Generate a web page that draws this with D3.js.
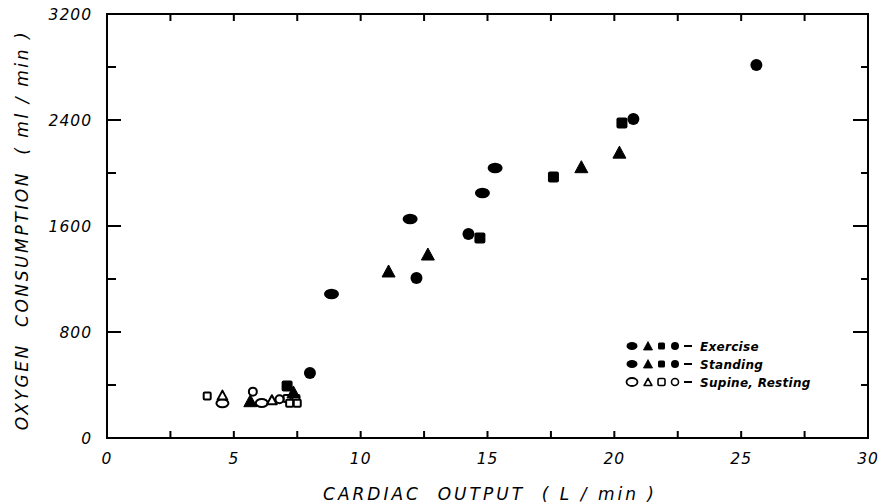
<!DOCTYPE html>
<html>
<head>
<meta charset="utf-8">
<script src="https://cdn.jsdelivr.net/npm/d3@7"></script>
<style>
  body { margin: 0; background: #fff; }
  svg { display: block; }
</style>
</head>
<body>
<div id="chart"></div>
<script>
  // cardiac output (L/min) vs oxygen consumption (ml/min)
  const filledOval = [[15.3, 2038], [14.8, 1849], [11.95, 1653], [8.85, 1087]];
  const filledCircle = [[25.6, 2815], [20.75, 2408], [14.25, 1540], [12.2, 1208], [8.0, 491]];
  const filledSquare = [[17.6, 1970], [20.3, 2377], [14.7, 1509], [7.1, 392]];
  const filledTriangle = [[18.7, 2040], [20.2, 2150], [12.65, 1381], [11.1, 1253], [7.35, 340], [5.65, 274]];
  const openOval = [[4.55, 262], [6.1, 264]];
  const openCircle = [[5.75, 350], [6.8, 292]];
  const openSquare = [[3.95, 317], [7.1, 299], [7.45, 299], [7.2, 262], [7.5, 262]];
  const openTriangle = [[4.55, 318], [6.5, 283]];

  const xTicks = [0, 5, 10, 15, 20, 25, 30];
  const yTicks = [0, 800, 1600, 2400, 3200];
  const legendLabels = ["Exercise", "Standing", "Supine, Resting"];

(function() {
  const W = 884, H = 504;
  const plot = { left: 107, right: 868, top: 14, bottom: 438 };
  const FONT = "'DejaVu Sans', sans-serif";

  const svg = d3.select("#chart").append("svg").attr("width", W).attr("height", H);

  const x = d3.scaleLinear().domain([0, 30]).range([plot.left, plot.right]);
  const y = d3.scaleLinear().domain([0, 3200]).range([plot.bottom, plot.top]);

  // frame
  svg.append("rect")
    .attr("x", plot.left).attr("y", plot.top)
    .attr("width", plot.right - plot.left).attr("height", plot.bottom - plot.top)
    .attr("fill", "none").attr("stroke", "#000").attr("stroke-width", 2);

  // x ticks every 2.5, pointing inward, bottom and top
  const xMinor = d3.range(2.5, 30, 2.5);
  svg.append("g").selectAll("line").data(xMinor).join("line")
    .attr("x1", d => x(d)).attr("x2", d => x(d))
    .attr("y1", plot.bottom).attr("y2", plot.bottom - 7)
    .attr("stroke", "#000").attr("stroke-width", 2);
  svg.append("g").selectAll("line").data(xMinor).join("line")
    .attr("x1", d => x(d)).attr("x2", d => x(d))
    .attr("y1", plot.top).attr("y2", plot.top + 7)
    .attr("stroke", "#000").attr("stroke-width", 2);

  // y ticks every 400, major ones longer
  const yAll = d3.range(400, 3200, 400);
  svg.append("g").selectAll("line").data(yAll).join("line")
    .attr("x1", plot.left).attr("x2", d => plot.left + (d % 800 === 0 ? 14 : 9))
    .attr("y1", d => y(d)).attr("y2", d => y(d))
    .attr("stroke", "#000").attr("stroke-width", 2);
  svg.append("g").selectAll("line").data(yAll).join("line")
    .attr("x1", plot.right).attr("x2", d => plot.right - (d % 800 === 0 ? 15 : 7))
    .attr("y1", d => y(d)).attr("y2", d => y(d))
    .attr("stroke", "#000").attr("stroke-width", 2);

  // tick labels
  svg.append("g").selectAll("text").data(xTicks).join("text")
    .attr("x", d => x(d)).attr("y", 464)
    .attr("text-anchor", "middle")
    .style("font-family", FONT).style("font-style", "italic")
    .style("font-size", "15.5px").style("letter-spacing", "1px")
    .text(d => d);

  svg.append("g").selectAll("text").data(yTicks).join("text")
    .attr("x", 92).attr("y", d => y(d) + 5.5)
    .attr("text-anchor", "end")
    .style("font-family", FONT).style("font-style", "italic")
    .style("font-size", "15.5px").style("letter-spacing", "1px")
    .text(d => d);

  // axis titles
  const nb = s => s.replace(/ /g, "\u00a0");
  svg.append("text")
    .attr("x", 490).attr("y", 500)
    .attr("text-anchor", "middle")
    .style("font-family", FONT).style("font-style", "italic")
    .style("font-size", "17px").style("letter-spacing", "3px")
    .text(nb("CARDIAC  OUTPUT  ( L / min )"));

  svg.append("text")
    .attr("transform", "translate(28,230) rotate(-90)")
    .attr("text-anchor", "middle")
    .style("font-family", FONT).style("font-style", "italic")
    .style("font-size", "17px").style("letter-spacing", "2.6px")
    .text(nb("OXYGEN  CONSUMPTION  ( ml / min )"));

  // marker shapes
  const triPath = s => `M0,${-7 * s} L${6.5 * s},${5 * s} L${-6.5 * s},${5 * s} Z`;

  function drawOval(g, data, rx, ry, filled) {
    g.selectAll(null).data(data).join("ellipse")
      .attr("cx", d => x(d[0])).attr("cy", d => y(d[1]))
      .attr("rx", rx).attr("ry", ry)
      .attr("fill", filled ? "#000" : "#fff")
      .attr("stroke", "#000").attr("stroke-width", filled ? 0 : 2);
  }
  function drawSquare(g, data, s, filled) {
    g.selectAll(null).data(data).join("rect")
      .attr("x", d => x(d[0]) - s / 2).attr("y", d => y(d[1]) - s / 2)
      .attr("width", s).attr("height", s).attr("rx", filled ? 2 : 1)
      .attr("fill", filled ? "#000" : "#fff")
      .attr("stroke", "#000").attr("stroke-width", filled ? 0 : 2);
  }
  function drawTriangle(g, data, s, filled) {
    g.selectAll(null).data(data).join("path")
      .attr("transform", d => `translate(${x(d[0])},${y(d[1])})`)
      .attr("d", triPath(s))
      .attr("fill", filled ? "#000" : "#fff")
      .attr("stroke", "#000").attr("stroke-width", filled ? 1 : 2)
      .attr("stroke-linejoin", "round");
  }

  const marks = svg.append("g");
  drawOval(marks, openOval, 6, 4, false);
  drawSquare(marks, openSquare, 7, false);
  drawTriangle(marks, openTriangle, 0.75, false);
  drawOval(marks, openCircle, 4, 4, false);
  drawTriangle(marks, filledTriangle, 1, true);
  drawSquare(marks, filledSquare, 11, true);
  drawOval(marks, filledOval, 7.5, 5.2, true);
  drawOval(marks, filledCircle, 6, 6, true);

  // legend
  const legendRows = [346, 364, 382];
  const leg = svg.append("g");
  legendRows.forEach((ly, i) => {
    const filled = i < 2;
    leg.append("ellipse").attr("cx", 632).attr("cy", ly).attr("rx", 5.5).attr("ry", 4)
      .attr("fill", filled ? "#000" : "#fff").attr("stroke", "#000").attr("stroke-width", filled ? 0 : 1.8);
    leg.append("path").attr("transform", `translate(648,${ly + 0.5})`).attr("d", triPath(filled ? 0.7 : 0.6))
      .attr("fill", filled ? "#000" : "#fff").attr("stroke", "#000").attr("stroke-width", filled ? 0.8 : 1.6)
      .attr("stroke-linejoin", "round");
    leg.append("rect").attr("x", 658).attr("y", ly - 3.5).attr("width", 7).attr("height", 7).attr("rx", 1.5)
      .attr("fill", filled ? "#000" : "#fff").attr("stroke", "#000").attr("stroke-width", filled ? 0 : 1.6);
    leg.append("circle").attr("cx", 675).attr("cy", ly).attr("r", filled ? 4 : 3.5)
      .attr("fill", filled ? "#000" : "#fff").attr("stroke", "#000").attr("stroke-width", filled ? 0 : 1.6);
    leg.append("line").attr("x1", 684).attr("x2", 692).attr("y1", ly).attr("y2", ly)
      .attr("stroke", "#000").attr("stroke-width", 2);
    leg.append("text").attr("x", 700).attr("y", ly + 4.5)
      .style("font-family", FONT).style("font-style", "italic").style("font-weight", "bold")
      .style("font-size", "12px").style("letter-spacing", "0.3px")
      .text(legendLabels[i]);
  });
})();
</script>
</body>
</html>
